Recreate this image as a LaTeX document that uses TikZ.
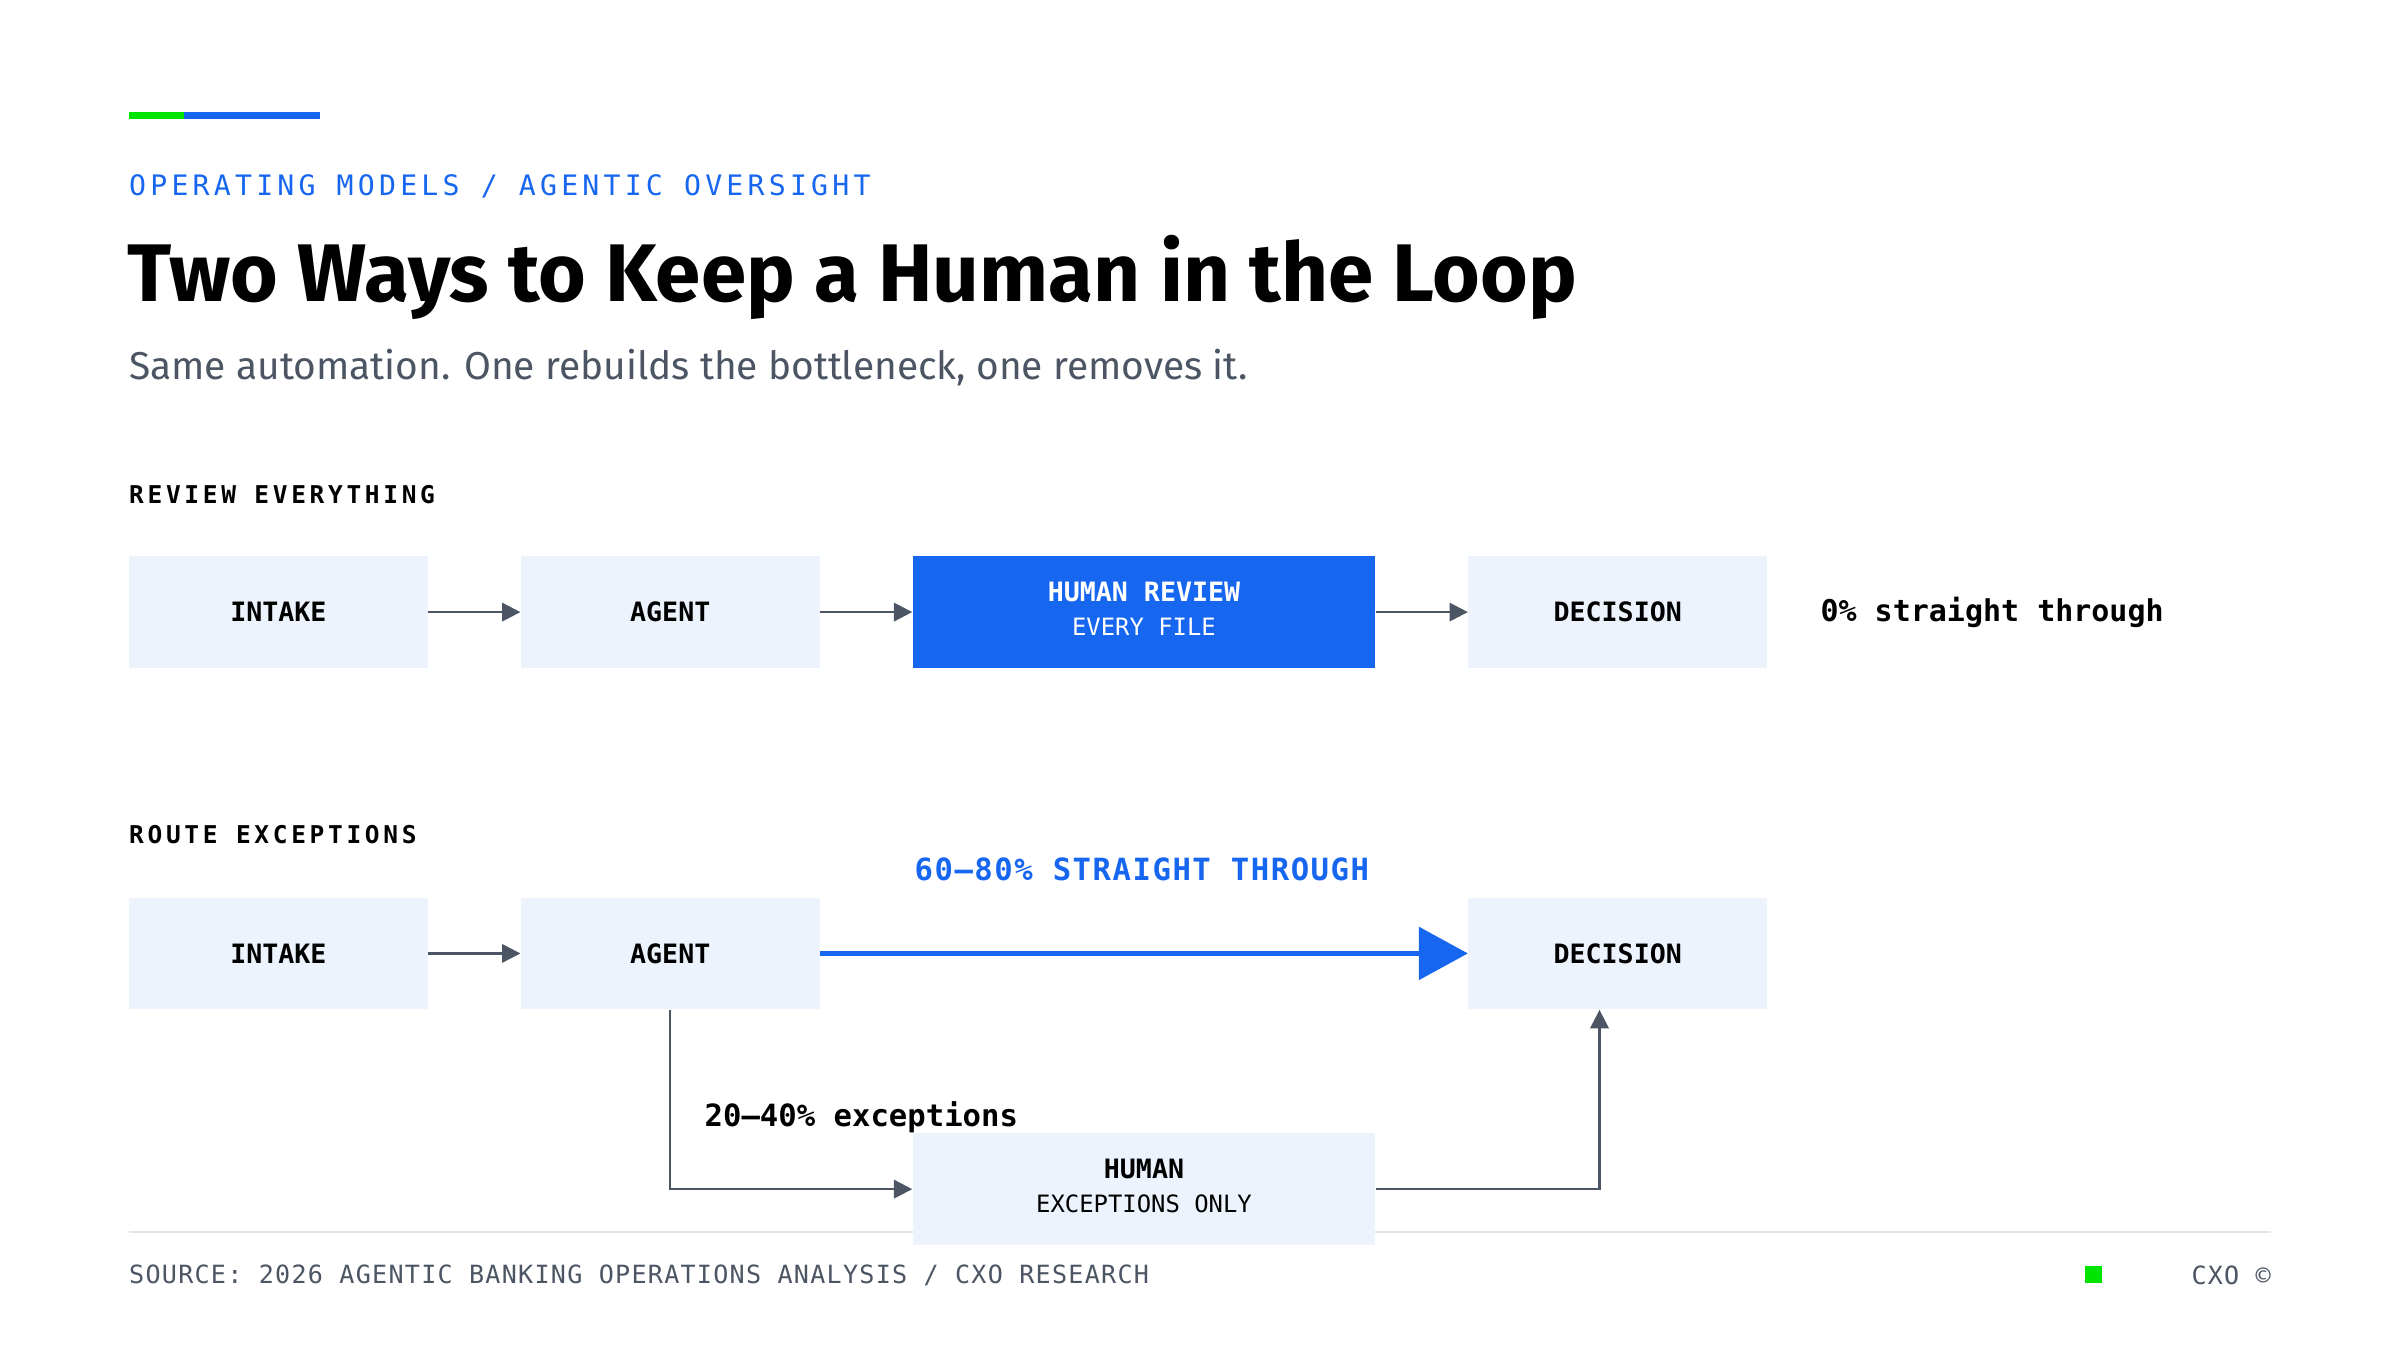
\documentclass[tikz,border=0pt]{standalone}
\usepackage{fontspec}
\setmainfont{Fira Sans}
\newfontfamily\mono{DejaVu Sans Mono}
\newfontfamily\monoW[LetterSpace=15]{DejaVu Sans Mono}
\newfontfamily\monoN[LetterSpace=5]{DejaVu Sans Mono}
\usetikzlibrary{arrows.meta}
\definecolor{blu}{HTML}{1766F0}
\definecolor{pale}{HTML}{EDF3FD}
\definecolor{grayline}{HTML}{4B5563}
\definecolor{sub}{HTML}{4B5563}
\begin{document}
\begin{tikzpicture}[x=0.5pt,y=-0.5pt,
 box/.style={fill=pale,draw=none,minimum width=97.5pt,minimum height=36.5pt,anchor=north west,inner sep=0pt,font=\mono\bfseries\fontsize{8.7}{10}\selectfont},
 arr/.style={draw=grayline,line width=0.8pt,-{Triangle[length=6pt,width=6pt]}},
 sec/.style={anchor=west,inner sep=0pt,font=\monoW\bfseries\fontsize{8}{10}\selectfont}]
\useasboundingbox (0,0) rectangle (1568,882);
\fill[white] (0,0) rectangle (1568,882);
\fill[green!90!black] (84,73) rectangle (120,78);
\fill[blu] (120,73) rectangle (209,78);
\node[anchor=west,inner sep=0pt,text=blu,font=\monoW\fontsize{9.2}{10}\selectfont] (kick) at (84,122) {OPERATING MODELS / AGENTIC OVERSIGHT};
\node[anchor=base west,inner sep=0pt,font=\bfseries\fontsize{26.7}{30}\selectfont] (title) at (83,197) {Two Ways to Keep a Human in the Loop};
\node[anchor=base west,inner sep=0pt,text=sub,font=\fontsize{12.7}{15}\selectfont] (subt) at (84,248) {Same automation. One rebuilds the bottleneck, one removes it.};
\node[sec] (s1) at (84,323) {REVIEW EVERYTHING};
\node[box] (i1) at (84,363) {INTAKE};
\node[box] (a1) at (340,363) {AGENT};
\node[box,fill=blu,minimum width=151pt,text=white] (h1) at (596,363) {\begin{tabular}{c}HUMAN REVIEW\\[1pt]{\mdseries\fontsize{7.8}{9}\selectfont EVERY FILE}\end{tabular}};
\node[box] (d1) at (959,363) {DECISION};
\node[anchor=west,inner sep=0pt,font=\mono\bfseries\fontsize{9.8}{12}\selectfont] (st) at (1189,400) {0\% straight through};
\draw[arr] (i1) -- (a1);
\draw[arr] (a1) -- (h1);
\draw[arr] (h1) -- (d1);
\node[sec] (s2) at (84,545) {ROUTE EXCEPTIONS};
\draw[draw=gray!20,line width=0.6pt] (84,805) coordinate (l0) -- (1484,805) coordinate (l1);
\node[box] (i2) at (84,586) {INTAKE};
\node[box] (a2) at (340,586) {AGENT};
\node[box] (d2) at (959,586) {DECISION};
\node[box,minimum width=151pt] (h2) at (596,740) {\begin{tabular}{c}HUMAN\\[1pt]{\mdseries\fontsize{7.8}{9}\selectfont EXCEPTIONS ONLY}\end{tabular}};
\node[inner sep=0pt,text=blu,font=\monoN\bfseries\fontsize{10}{12}\selectfont] (pct) at (746,568) {60–80\% STRAIGHT THROUGH};
\draw[arr] (i2) -- (a2);
\draw[draw=blu,line width=1.8pt,-{Triangle[length=16pt,width=17pt]}] (a2) -- (d2);
\draw[arr] (a2.south) |- (h2.west);
\draw[arr] (h2.east) -| (d2.south -| 1045,0);
\node[anchor=west,inner sep=0pt,font=\mono\bfseries\fontsize{10}{12}\selectfont] (exc) at (460,730) {20–40\% exceptions};
\node[anchor=west,inner sep=0pt,text=sub,font=\monoN\fontsize{8.2}{10}\selectfont] (src) at (84,833) {SOURCE: 2026 AGENTIC BANKING OPERATIONS ANALYSIS / CXO RESEARCH};
\fill[green!90!black] (1362,827) rectangle (1373,838);
\node[anchor=east,inner sep=0pt,text=sub,font=\monoN\fontsize{8.2}{10}\selectfont] (cxo) at (1484,833) {CXO ©};
\end{tikzpicture}
\end{document}
